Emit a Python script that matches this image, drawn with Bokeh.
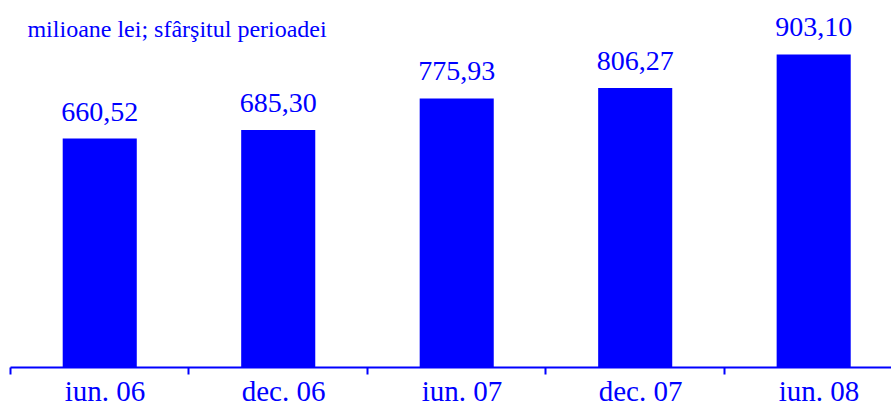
from bokeh.plotting import figure
from bokeh.models import Range1d, FixedTicker, ColumnDataSource, LinearAxis
from bokeh.core.properties import value
from bokeh.embed import file_html
from bokeh.resources import INLINE

categories = ["iun. 06", "dec. 06", "iun. 07", "dec. 07", "iun. 08"]
values = [660.52, 685.30, 775.93, 806.27, 903.10]
value_labels = [f"{v:.2f}".replace(".", ",") for v in values]
unit_note = "milioane lei; sfârşitul perioadei"

BLUE = "#0000FF"
FONT = "Liberation Serif"

centers = [i + 0.5 for i in range(len(categories))]
label_pos = [c + 0.03 for c in centers]
src = ColumnDataSource(dict(x=centers, top=values, lab=value_labels))

p = figure(width=891, height=411, output_backend="svg", toolbar_location=None,
           x_range=Range1d(0, 4.936), y_range=Range1d(0, 1058.6),
           min_border_left=10, min_border_right=0, min_border_top=0, min_border_bottom=44,
           x_axis_location=None, y_axis_location=None)
p.outline_line_color = None
p.xgrid.visible = False
p.ygrid.visible = False
p.background_fill_color = "white"
p.border_fill_color = "white"

p.vbar(x="x", top="top", bottom=0, width=0.415, source=src,
       fill_color=BLUE, line_color=None)

p.text(x="x", y="top", text="lab", source=src, y_offset=-27,
       text_align="center", text_baseline="alphabetic",
       text_font=value(FONT), text_font_size="28px", text_color=BLUE)

p.text(x=[0.095], y=[976], text=[unit_note], text_align="left",
       text_baseline="alphabetic", text_font=value(FONT),
       text_font_size="24px", text_color=BLUE)

ax = LinearAxis()
ax.ticker = FixedTicker(ticks=label_pos, minor_ticks=list(range(len(categories) + 1)))
ax.major_label_overrides = {c: lab for c, lab in zip(label_pos, categories)}
ax.axis_line_color = BLUE
ax.axis_line_width = 2
ax.major_tick_out = 0
ax.major_tick_in = 0
ax.minor_tick_out = 7
ax.minor_tick_in = 0
ax.minor_tick_line_color = BLUE
ax.minor_tick_line_width = 2
ax.major_label_standoff = 0
ax.major_label_text_font = FONT
ax.major_label_text_font_size = "29px"
ax.major_label_text_color = BLUE
p.add_layout(ax, "below")

open("out.html", "w").write(file_html(p, INLINE))
